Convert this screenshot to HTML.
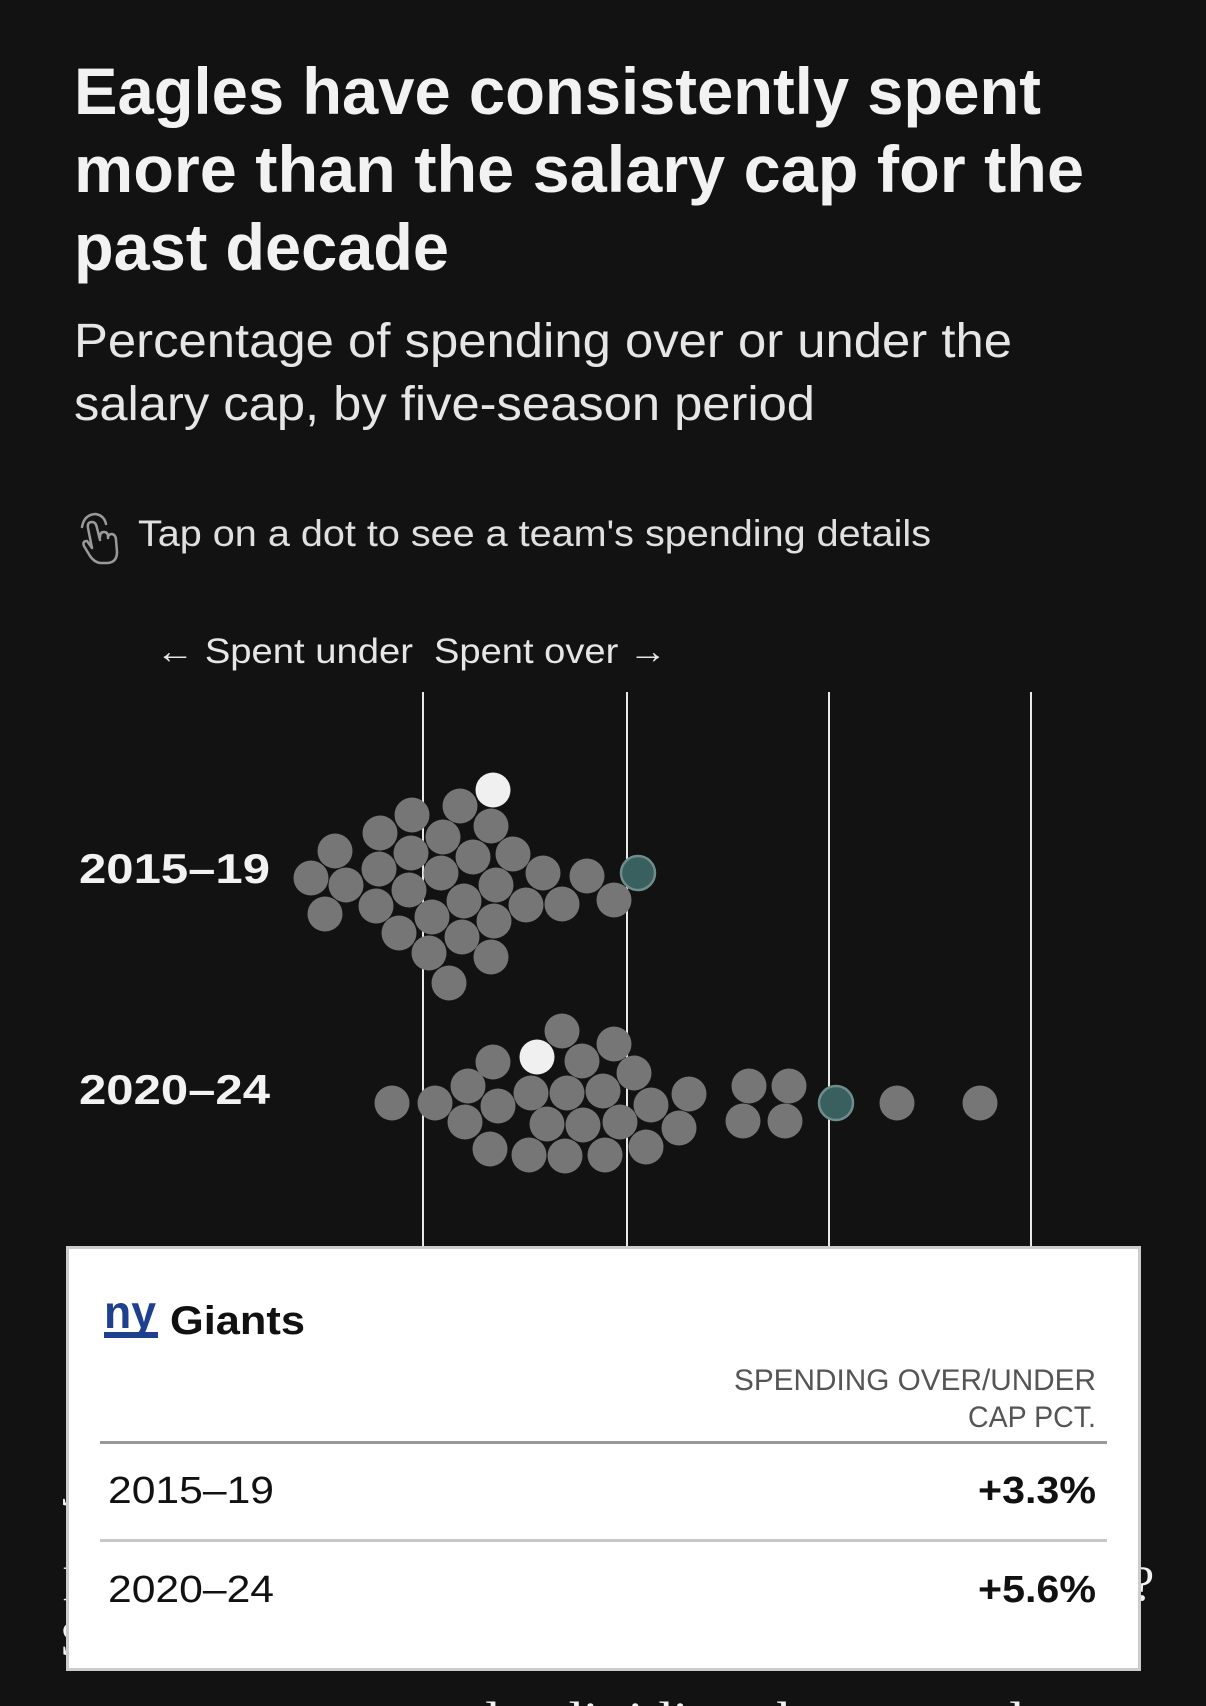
<!DOCTYPE html>
<html><head><meta charset="utf-8"><style>
html,body{margin:0;padding:0;background:#121212;}
svg{display:block;}
</style></head><body>
<svg width="1206" height="1706" viewBox="0 0 1206 1706" xmlns="http://www.w3.org/2000/svg">
<rect width="1206" height="1706" fill="#121212"/>
<g font-family="Liberation Sans, sans-serif" fill="#f2f2f2">
<text x="74" y="114" font-size="66" font-weight="bold" textLength="967" lengthAdjust="spacingAndGlyphs">Eagles have consistently spent</text>
<text x="74" y="192" font-size="66" font-weight="bold" textLength="1010" lengthAdjust="spacingAndGlyphs">more than the salary cap for the</text>
<text x="74" y="270" font-size="66" font-weight="bold" textLength="375" lengthAdjust="spacingAndGlyphs">past decade</text>
<text x="74" y="357" font-size="48" fill="#e6e6e6" textLength="938" lengthAdjust="spacingAndGlyphs">Percentage of spending over or under the</text>
<text x="74" y="420" font-size="48" fill="#e6e6e6" textLength="741" lengthAdjust="spacingAndGlyphs">salary cap, by five-season period</text>
<text x="138" y="546" font-size="37" fill="#e0e0e0" textLength="793" lengthAdjust="spacingAndGlyphs">Tap on a dot to see a team's spending details</text>
<text x="156" y="663" font-size="35" fill="#e6e6e6" textLength="257" lengthAdjust="spacingAndGlyphs">← Spent under</text>
<text x="434" y="663" font-size="35" fill="#e6e6e6" textLength="233" lengthAdjust="spacingAndGlyphs">Spent over →</text>
<text x="79" y="883" font-size="42" font-weight="bold" textLength="191" lengthAdjust="spacingAndGlyphs">2015–19</text>
<text x="79" y="1104" font-size="42" font-weight="bold" textLength="191" lengthAdjust="spacingAndGlyphs">2020–24</text>
</g>
<g fill="none" stroke="#9a9a9a" stroke-width="2.5" stroke-linecap="round" stroke-linejoin="round">
<path d="M92 548 L88 528 Q87 522 92 522 Q96 522 97 528 L100 540 M100 537 Q100 532 104 532 Q108 532 108 537 M108 538 Q108 534 112 534 Q116 535 116 540 L117 552 Q117 562 108 563 L100 563 Q94 562 90 556 L84 546 Q82 541 87 541 L92 548"/>
<path d="M82 527 Q84 515 95 514 Q104 515 106 524"/>
</g>
<g stroke="#e8e8e8" stroke-width="2">
<line x1="423" y1="692" x2="423" y2="1250"/>
<line x1="627" y1="692" x2="627" y2="1250"/>
<line x1="829" y1="692" x2="829" y2="1250"/>
<line x1="1031" y1="692" x2="1031" y2="1250"/>
</g>
<g fill="#767676">
<circle cx="460" cy="806" r="17.5"/><circle cx="412" cy="815" r="17.5"/><circle cx="491" cy="826" r="17.5"/>
<circle cx="380" cy="833" r="17.5"/><circle cx="443" cy="837" r="17.5"/><circle cx="335" cy="851" r="17.5"/>
<circle cx="411" cy="853" r="17.5"/><circle cx="473" cy="857" r="17.5"/><circle cx="513" cy="854" r="17.5"/>
<circle cx="311" cy="878" r="17.5"/><circle cx="379" cy="869" r="17.5"/><circle cx="441" cy="873" r="17.5"/>
<circle cx="346" cy="885" r="17.5"/><circle cx="409" cy="890" r="17.5"/><circle cx="496" cy="885" r="17.5"/>
<circle cx="543" cy="873" r="17.5"/><circle cx="587" cy="876" r="17.5"/><circle cx="325" cy="914" r="17.5"/>
<circle cx="376" cy="906" r="17.5"/><circle cx="432" cy="917" r="17.5"/><circle cx="464" cy="901" r="17.5"/>
<circle cx="526" cy="905" r="17.5"/><circle cx="562" cy="904" r="17.5"/><circle cx="614" cy="900" r="17.5"/>
<circle cx="399" cy="933" r="17.5"/><circle cx="462" cy="937" r="17.5"/><circle cx="494" cy="921" r="17.5"/>
<circle cx="429" cy="953" r="17.5"/><circle cx="491" cy="957" r="17.5"/><circle cx="449" cy="983" r="17.5"/>

<circle cx="562" cy="1031" r="17.5"/><circle cx="614" cy="1044" r="17.5"/><circle cx="493" cy="1062" r="17.5"/>
<circle cx="582" cy="1061" r="17.5"/><circle cx="634" cy="1073" r="17.5"/><circle cx="468" cy="1086" r="17.5"/>
<circle cx="392" cy="1103" r="17.5"/><circle cx="435" cy="1103" r="17.5"/><circle cx="531" cy="1093" r="17.5"/>
<circle cx="567" cy="1093" r="17.5"/><circle cx="603" cy="1091" r="17.5"/><circle cx="498" cy="1106" r="17.5"/>
<circle cx="651" cy="1105" r="17.5"/><circle cx="689" cy="1094" r="17.5"/><circle cx="749" cy="1086" r="17.5"/>
<circle cx="789" cy="1086" r="17.5"/><circle cx="897" cy="1103" r="17.5"/><circle cx="980" cy="1103" r="17.5"/>
<circle cx="465" cy="1122" r="17.5"/><circle cx="547" cy="1124" r="17.5"/><circle cx="583" cy="1125" r="17.5"/>
<circle cx="620" cy="1122" r="17.5"/><circle cx="679" cy="1128" r="17.5"/><circle cx="743" cy="1121" r="17.5"/>
<circle cx="785" cy="1121" r="17.5"/><circle cx="490" cy="1149" r="17.5"/><circle cx="529" cy="1155" r="17.5"/>
<circle cx="565" cy="1156" r="17.5"/><circle cx="605" cy="1155" r="17.5"/><circle cx="646" cy="1147" r="17.5"/>
</g>
<circle cx="493" cy="790" r="17.5" fill="#f0f0f0"/>
<circle cx="537" cy="1057" r="17.5" fill="#f0f0f0"/>
<circle cx="638" cy="873" r="17" fill="#3a5f5f" stroke="#6f8c8c" stroke-width="2.5"/>
<circle cx="836" cy="1103" r="17" fill="#3a5f5f" stroke="#6f8c8c" stroke-width="2.5"/>
<g font-family="Liberation Serif, serif" fill="#f2f2f2" font-size="50">
<text x="62" y="1505">J</text><text x="62" y="1600">I</text><text x="60" y="1655">S</text>
<text x="1132" y="1600">?</text>
<text x="150" y="1736" textLength="1000" lengthAdjust="spacingAndGlyphs">ay  memnts and a dividing the cap and asset</text>
</g>
<rect x="67.5" y="1247.5" width="1072" height="422" fill="#ffffff" stroke="#cccccc" stroke-width="3"/>
<g font-family="Liberation Sans, sans-serif">
<text x="104" y="1328" font-size="46" font-weight="bold" fill="#1f3f8f" textLength="52" lengthAdjust="spacingAndGlyphs">ny</text>
<rect x="104" y="1332" width="54" height="6" fill="#1f3f8f"/>
<text x="170" y="1334" font-size="40" font-weight="bold" fill="#111" textLength="135" lengthAdjust="spacingAndGlyphs">Giants</text>
<text x="1096" y="1390" font-size="30" fill="#555" text-anchor="end" textLength="362" lengthAdjust="spacingAndGlyphs">SPENDING OVER/UNDER</text>
<text x="1096" y="1427" font-size="30" fill="#555" text-anchor="end" textLength="128" lengthAdjust="spacingAndGlyphs">CAP PCT.</text>
<rect x="100" y="1441" width="1007" height="3" fill="#999"/>
<text x="108" y="1503" font-size="38" fill="#111" textLength="166" lengthAdjust="spacingAndGlyphs">2015–19</text>
<text x="1096" y="1503" font-size="38" font-weight="bold" fill="#111" text-anchor="end" textLength="118" lengthAdjust="spacingAndGlyphs">+3.3%</text>
<rect x="100" y="1539" width="1007" height="3" fill="#c8c8c8"/>
<text x="108" y="1602" font-size="38" fill="#111" textLength="166" lengthAdjust="spacingAndGlyphs">2020–24</text>
<text x="1096" y="1602" font-size="38" font-weight="bold" fill="#111" text-anchor="end" textLength="118" lengthAdjust="spacingAndGlyphs">+5.6%</text>
</g>
</svg>
</body></html>
